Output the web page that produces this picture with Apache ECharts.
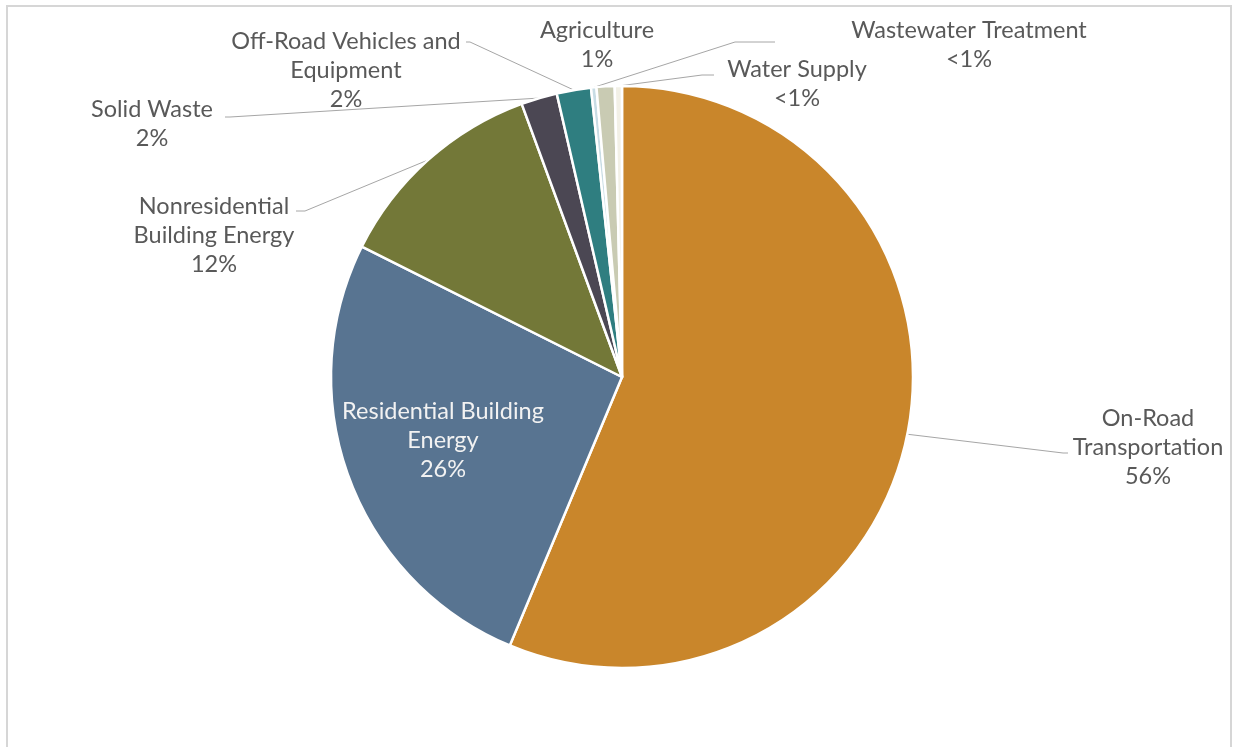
<!DOCTYPE html>
<html>
<head>
<meta charset="utf-8">
<script src="https://cdn.jsdelivr.net/npm/echarts@6/dist/echarts.min.js"></script>
<style>
html,body{margin:0;padding:0;background:#fff;}
#chart{width:1235px;height:747px;}
</style>
</head>
<body>
<div id="chart"></div>
<script>
// ---- data ----
const categories = [
  'On-Road\nTransportation',
  'Residential Building\nEnergy',
  'Nonresidential\nBuilding Energy',
  'Solid Waste',
  'Off-Road Vehicles and\nEquipment',
  'Wastewater Treatment',
  'Agriculture',
  'Water Supply'
];
const shares = [56.3, 26.1, 12.0, 2.0, 1.9, 0.3, 1.0, 0.4];

// ---- styling / layout (not data) ----
const sliceColors = ['#C9862B', '#587491', '#737838', '#4B4753', '#2F7E80', '#C8DCE4', '#C9CBB3', '#F2F0E6'];
const labelLayoutCfg = [
  {x: 1148, y: 447, line: [[1063, 453], [1068, 453]]},
  {x: 443, y: 440, line: null},
  {x: 214, y: 235, line: [[305, 211], [296, 211]]},
  {x: 152, y: 124, line: [[230, 117], [225, 117]]},
  {x: 346, y: 70, line: [[470, 42], [466, 42]]},
  {x: 969, y: 45, line: [[735, 42], [775, 42]]},
  {x: 597, y: 45, line: null},
  {x: 797, y: 84, line: [[702, 75], [714, 75]]}
];

const fmtPct = v => (v < 1 ? '<1%' : Math.round(v) + '%');

const data = categories.map((n, i) => {
  const d = {name: n, value: shares[i], itemStyle: {color: sliceColors[i]}};
  if (i === 1) {
    d.label = {color: '#F2F2F2', position: 'inside'};
    d.labelLine = {show: false};
  }
  if (i === 6) d.labelLine = {show: false};
  return d;
});

const chart = echarts.init(document.getElementById('chart'), null, {renderer: 'canvas'});
chart.setOption({
  animation: false,
  backgroundColor: '#ffffff',
  graphic: [{
    type: 'rect',
    shape: {x: 7, y: 6, width: 1224, height: 760},
    style: {fill: 'none', stroke: '#D6D6D6', lineWidth: 2},
    silent: true, z: -1
  }],
  series: [{
    type: 'pie',
    center: [622, 377],
    radius: 291,
    startAngle: 90,
    clockwise: true,
    avoidLabelOverlap: false,
    itemStyle: {borderColor: '#ffffff', borderWidth: 2.5},
    label: {
      show: true,
      fontFamily: 'Lato',
      fontSize: 23.5,
      lineHeight: 29,
      color: '#595959',
      align: 'center',
      formatter: p => p.name + '\n' + fmtPct(p.value)
    },
    labelLine: {show: true, lineStyle: {color: '#A6A6A6', width: 1}},
    labelLayout: function (p) {
      const L = labelLayoutCfg[p.dataIndex];
      const r = {x: L.x, y: L.y, align: 'center', verticalAlign: 'middle'};
      if (L.line && p.labelLinePoints) {
        r.labelLinePoints = [p.labelLinePoints[0], L.line[0], L.line[1]];
      }
      return r;
    },
    data: data
  }]
});
</script>
</body>
</html>
